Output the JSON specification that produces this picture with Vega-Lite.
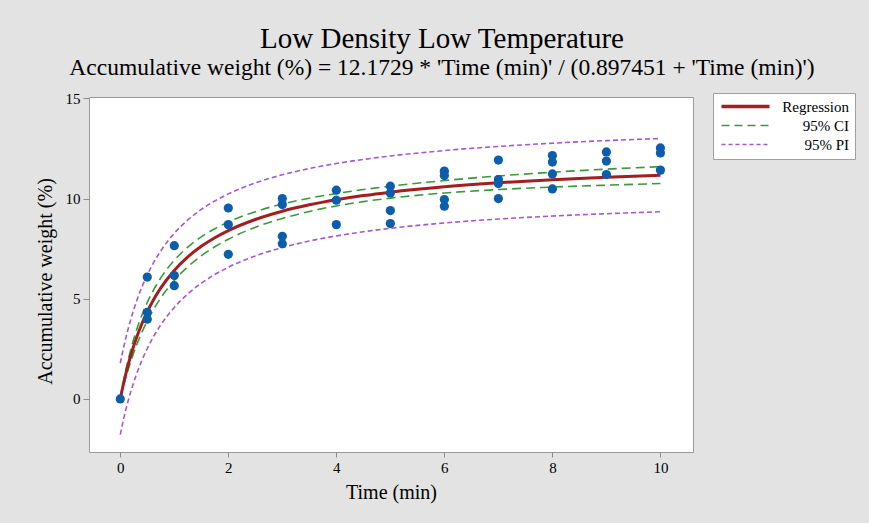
{
  "$schema": "https://vega.github.io/schema/vega-lite/v6.json",
  "autosize": {"type": "none"},
  "width": 604,
  "height": 355,
  "padding": {"left": 89, "top": 97, "right": 176, "bottom": 71},
  "background": "#E3E3E3",
  "view": {"fill": "white", "stroke": "#9a9a9a", "strokeWidth": 1},
  "title": {
    "text": "Low Density Low Temperature",
    "subtitle": "Accumulative weight (%) = 12.1729 * 'Time (min)' / (0.897451 + 'Time (min)')",
    "font": "Liberation Serif, serif",
    "subtitleFont": "Liberation Serif, serif",
    "anchor": "middle",
    "frame": "group",
    "dx": 51,
    "offset": 12,
    "subtitlePadding": 2
  },
  "config": {
    "font": "Liberation Serif",
    "title": {
      "font": "Liberation Serif, serif",
      "subtitleFont": "Liberation Serif, serif",
      "fontSize": 29,
      "subtitleFontSize": 23.5,
      "fontWeight": "normal",
      "subtitleFontWeight": "normal",
      "color": "black",
      "subtitleColor": "black"
    },
    "style": {
      "group-title": {"font": "Liberation Serif, serif", "fontSize": 29, "fontWeight": "normal"},
      "group-subtitle": {"font": "Liberation Serif, serif", "fontSize": 23.5, "fontWeight": "normal"}
    },
    "axis": {
      "grid": false,
      "domain": false,
      "tickColor": "#8c8c8c",
      "tickSize": 5,
      "labelFont": "Liberation Serif",
      "labelFontSize": 15,
      "labelColor": "black",
      "titleFont": "Liberation Serif",
      "titleFontSize": 20,
      "titleFontWeight": "normal",
      "titleColor": "black"
    }
  },
  "datasets": {
    "curve": [
      {"t": 0, "fit": 0, "ci_lo": 0, "ci_hi": 0, "pi_lo": -1.78, "pi_hi": 1.78},
      {"t": 0.05, "fit": 0.642, "ci_lo": 0.542, "ci_hi": 0.742, "pi_lo": -1.141, "pi_hi": 2.425},
      {"t": 0.1, "fit": 1.22, "ci_lo": 1.04, "ci_hi": 1.4, "pi_lo": -0.569, "pi_hi": 3.009},
      {"t": 0.15, "fit": 1.743, "ci_lo": 1.493, "ci_hi": 1.993, "pi_lo": -0.054, "pi_hi": 3.54},
      {"t": 0.2, "fit": 2.218, "ci_lo": 1.918, "ci_hi": 2.518, "pi_lo": 0.413, "pi_hi": 4.023},
      {"t": 0.3, "fit": 3.05, "ci_lo": 2.67, "ci_hi": 3.43, "pi_lo": 1.23, "pi_hi": 4.87},
      {"t": 0.4, "fit": 3.753, "ci_lo": 3.323, "ci_hi": 4.183, "pi_lo": 1.922, "pi_hi": 5.584},
      {"t": 0.5, "fit": 4.355, "ci_lo": 3.895, "ci_hi": 4.815, "pi_lo": 2.517, "pi_hi": 6.193},
      {"t": 0.6, "fit": 4.877, "ci_lo": 4.397, "ci_hi": 5.357, "pi_lo": 3.033, "pi_hi": 6.721},
      {"t": 0.75, "fit": 5.542, "ci_lo": 5.042, "ci_hi": 6.042, "pi_lo": 3.693, "pi_hi": 7.391},
      {"t": 1, "fit": 6.415, "ci_lo": 5.915, "ci_hi": 6.915, "pi_lo": 4.566, "pi_hi": 8.264},
      {"t": 1.25, "fit": 7.086, "ci_lo": 6.596, "ci_hi": 7.576, "pi_lo": 5.24, "pi_hi": 8.932},
      {"t": 1.5, "fit": 7.616, "ci_lo": 7.146, "ci_hi": 8.086, "pi_lo": 5.775, "pi_hi": 9.457},
      {"t": 1.75, "fit": 8.046, "ci_lo": 7.596, "ci_hi": 8.496, "pi_lo": 6.21, "pi_hi": 9.882},
      {"t": 2, "fit": 8.403, "ci_lo": 7.973, "ci_hi": 8.833, "pi_lo": 6.572, "pi_hi": 10.234},
      {"t": 2.5, "fit": 8.957, "ci_lo": 8.567, "ci_hi": 9.347, "pi_lo": 7.135, "pi_hi": 10.779},
      {"t": 3, "fit": 9.37, "ci_lo": 9.01, "ci_hi": 9.73, "pi_lo": 7.554, "pi_hi": 11.186},
      {"t": 3.5, "fit": 9.689, "ci_lo": 9.359, "ci_hi": 10.019, "pi_lo": 7.879, "pi_hi": 11.499},
      {"t": 4, "fit": 9.942, "ci_lo": 9.632, "ci_hi": 10.252, "pi_lo": 8.135, "pi_hi": 11.749},
      {"t": 4.5, "fit": 10.149, "ci_lo": 9.849, "ci_hi": 10.449, "pi_lo": 8.344, "pi_hi": 11.954},
      {"t": 5, "fit": 10.321, "ci_lo": 10.021, "ci_hi": 10.621, "pi_lo": 8.516, "pi_hi": 12.126},
      {"t": 6, "fit": 10.589, "ci_lo": 10.279, "ci_hi": 10.899, "pi_lo": 8.782, "pi_hi": 12.396},
      {"t": 7, "fit": 10.79, "ci_lo": 10.45, "ci_hi": 11.13, "pi_lo": 8.978, "pi_hi": 12.602},
      {"t": 8, "fit": 10.945, "ci_lo": 10.575, "ci_hi": 11.315, "pi_lo": 9.127, "pi_hi": 12.763},
      {"t": 9, "fit": 11.069, "ci_lo": 10.669, "ci_hi": 11.469, "pi_lo": 9.245, "pi_hi": 12.893},
      {"t": 10, "fit": 11.17, "ci_lo": 10.75, "ci_hi": 11.59, "pi_lo": 9.341, "pi_hi": 12.999}
    ],
    "pts": [
      {"t": 0, "w": 0},
      {"t": 0.5, "w": 6.08}, {"t": 0.5, "w": 4.32}, {"t": 0.5, "w": 3.98},
      {"t": 1, "w": 7.65}, {"t": 1, "w": 6.16}, {"t": 1, "w": 5.65},
      {"t": 2, "w": 9.53}, {"t": 2, "w": 8.7}, {"t": 2, "w": 7.22},
      {"t": 3, "w": 10.0}, {"t": 3, "w": 9.7}, {"t": 3, "w": 8.12}, {"t": 3, "w": 7.75},
      {"t": 4, "w": 10.42}, {"t": 4, "w": 9.92}, {"t": 4, "w": 8.7},
      {"t": 5, "w": 10.62}, {"t": 5, "w": 10.28}, {"t": 5, "w": 9.4}, {"t": 5, "w": 8.75},
      {"t": 6, "w": 11.37}, {"t": 6, "w": 11.15}, {"t": 6, "w": 9.95}, {"t": 6, "w": 9.62},
      {"t": 7, "w": 11.92}, {"t": 7, "w": 10.95}, {"t": 7, "w": 10.75}, {"t": 7, "w": 10.0},
      {"t": 8, "w": 12.15}, {"t": 8, "w": 11.82}, {"t": 8, "w": 11.23}, {"t": 8, "w": 10.48},
      {"t": 9, "w": 12.33}, {"t": 9, "w": 11.87}, {"t": 9, "w": 11.2},
      {"t": 10, "w": 12.53}, {"t": 10, "w": 12.28}, {"t": 10, "w": 11.42}
    ]
  },
  "layer": [
    {
      "data": {"name": "curve"},
      "transform": [{"fold": ["pi_lo", "pi_hi"], "as": ["bound", "value"]}],
      "mark": {"type": "line", "interpolate": "monotone", "strokeWidth": 1.6, "strokeDash": [5, 3]},
      "encoding": {
        "x": {"field": "t", "type": "quantitative", "title": "Time (min)",
              "scale": {"domain": [-0.579, 10.603], "nice": false, "zero": false},
              "axis": {"values": [0, 2, 4, 6, 8, 10], "format": "d", "labelPadding": 3, "titleY": 40, "titleBaseline": "middle"}},
        "y": {"field": "value", "type": "quantitative", "title": "Accumulative weight (%)",
              "scale": {"domain": [-2.65, 15.07], "nice": false, "zero": false},
              "axis": {"values": [0, 5, 10, 15], "format": "d", "tickSize": 6, "labelPadding": 3, "titleX": -44, "titleY": 184, "titleBaseline": "middle"}},
        "detail": {"field": "bound"},
        "color": {
          "datum": "95% PI",
          "scale": {"domain": ["Regression", "95% CI", "95% PI"], "range": ["#A31F1F", "#3A9A3A", "#A855D6"]},
          "legend": {
            "title": null,
            "orient": "none",
            "legendX": 624,
            "legendY": -4,
            "symbolType": "M-1,0H8.6",
            "symbolSize": 100,
            "symbolStrokeWidth": 1.6,
            "labelAlign": "right",
            "labelOffset": 115,
            "labelFont": "Liberation Serif",
            "labelFontSize": 15,
            "labelColor": "black",
            "fillColor": "white",
            "strokeColor": "#a0a0a0",
            "padding": 6,
            "rowPadding": 3,
            "encode": {
              "symbols": {
                "update": {
                  "strokeDash": {"signal": "datum.value === '95% CI' ? [8, 5] : datum.value === '95% PI' ? [4, 3] : [1, 0]"},
                  "strokeWidth": {"signal": "datum.value === 'Regression' ? 3.5 : 1.6"}
                }
              }
            }
          }
        }
      }
    },
    {
      "data": {"name": "curve"},
      "transform": [{"fold": ["ci_lo", "ci_hi"], "as": ["bound", "value"]}],
      "mark": {"type": "line", "interpolate": "monotone", "strokeWidth": 1.6, "strokeDash": [9, 5]},
      "encoding": {
        "x": {"field": "t", "type": "quantitative", "title": "Time (min)"},
        "y": {"field": "value", "type": "quantitative", "title": "Accumulative weight (%)"},
        "detail": {"field": "bound"},
        "color": {"datum": "95% CI"}
      }
    },
    {
      "data": {"name": "curve"},
      "mark": {"type": "line", "interpolate": "monotone", "strokeWidth": 3},
      "encoding": {
        "x": {"field": "t", "type": "quantitative", "title": "Time (min)"},
        "y": {"field": "fit", "type": "quantitative", "title": "Accumulative weight (%)"},
        "color": {"datum": "Regression"}
      }
    },
    {
      "data": {"name": "pts"},
      "mark": {"type": "circle", "size": 85, "opacity": 1, "color": "#0C5DAB"},
      "encoding": {
        "x": {"field": "t", "type": "quantitative", "title": "Time (min)"},
        "y": {"field": "w", "type": "quantitative", "title": "Accumulative weight (%)"}
      }
    }
  ]
}
